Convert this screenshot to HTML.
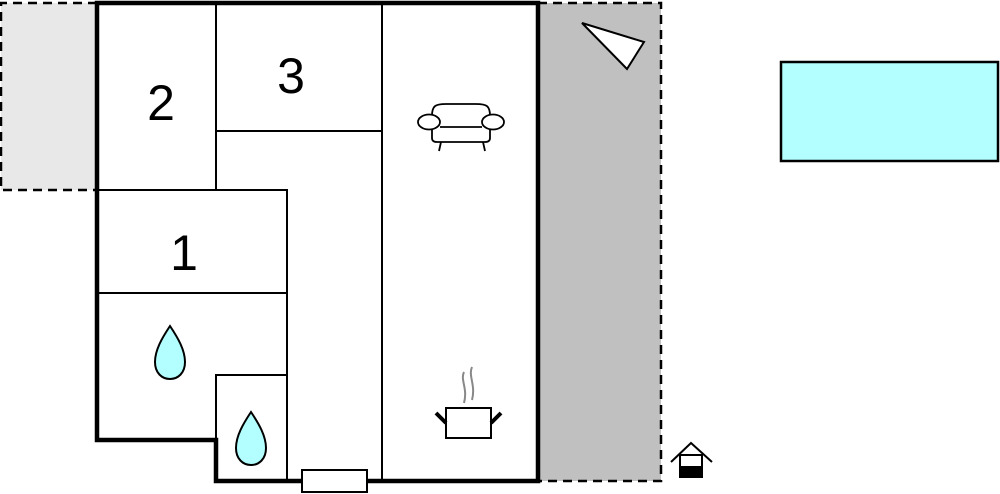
<!DOCTYPE html>
<html><head><style>html,body{margin:0;padding:0;background:#fff;}svg{display:block}</style></head>
<body>
<svg width="1000" height="494" viewBox="0 0 1000 494" xmlns="http://www.w3.org/2000/svg">
<rect x="1" y="3" width="96" height="187" fill="#e8e8e8"/>
<path d="M97 3 H1 V190 H97" fill="none" stroke="#000" stroke-width="2.5" stroke-dasharray="9,6"/>
<rect x="538" y="3" width="123" height="478" fill="#c0c0c0"/>
<path d="M538 3 H661 V481 H538" fill="none" stroke="#000" stroke-width="2.5" stroke-dasharray="9,6"/>
<polygon points="582,23 644,42 627,69" fill="#fff" stroke="#000" stroke-width="2"/>
<rect x="781" y="62" width="217" height="99" fill="#b3ffff" stroke="#000" stroke-width="2.5"/>
<g fill="none" stroke="#000" stroke-width="2">
<line x1="216" y1="3" x2="216" y2="190"/>
<line x1="382" y1="3" x2="382" y2="481"/>
<line x1="216" y1="131" x2="382" y2="131"/>
<path d="M97 190 H287 V481"/>
<line x1="97" y1="293" x2="287" y2="293"/>
<path d="M216 440 V375 H287"/>
</g>
<path d="M97 3 H538 V481 H216 V440 H97 Z" fill="none" stroke="#000" stroke-width="4.5"/>
<rect x="302" y="470" width="65" height="22" fill="#fff" stroke="#000" stroke-width="2"/>
<g font-family="Liberation Sans, sans-serif" font-size="50" text-anchor="middle" fill="#000">
<text x="161" y="120">2</text>
<text x="291" y="93">3</text>
<text x="184" y="270">1</text>
</g>
<g fill="#b3ffff" stroke="#000" stroke-width="2">
<path d="M170 326 C162 338 155 350 155 362 C155 373 162 379 170 379 C178 379 185 373 185 362 C185 350 178 338 170 326 Z"/>
<path d="M251 412 C243 424 236 436 236 448 C236 459 243 465 251 465 C259 465 266 459 266 448 C266 436 259 424 251 412 Z"/>
</g>
<g fill="#fff" stroke="#000" stroke-width="1.8">
<path d="M432 116 C432 106 435 104 446 104 H476 C487 104 490 106 490 116 V138 C490 141 488 142 485 142 H437 C434 142 432 141 432 138 Z"/>
<ellipse cx="429" cy="122" rx="11" ry="7.5"/>
<ellipse cx="493" cy="122" rx="11" ry="7.5"/>
<line x1="440" y1="127" x2="482" y2="127"/>
<line x1="441" y1="142" x2="439" y2="151" fill="none"/>
<line x1="483" y1="142" x2="485" y2="151" fill="none"/>
</g>
<g fill="none" stroke="#888" stroke-width="2">
<path d="M464 372 C460 380 468 388 464 403"/>
<path d="M472 367 C468 376 476 385 472 400"/>
</g>
<rect x="446" y="408" width="45" height="30" fill="#fff" stroke="#000" stroke-width="2"/>
<line x1="436" y1="413" x2="446" y2="423" stroke="#000" stroke-width="4"/>
<line x1="501" y1="413" x2="491" y2="423" stroke="#000" stroke-width="4"/>
<path d="M671 462 L691 443 L712 462" fill="none" stroke="#000" stroke-width="2"/>
<rect x="680" y="455" width="22" height="22" fill="#fff" stroke="#000" stroke-width="2"/>
<rect x="680" y="466" width="22" height="11" fill="#000"/>
</svg>
</body></html>
